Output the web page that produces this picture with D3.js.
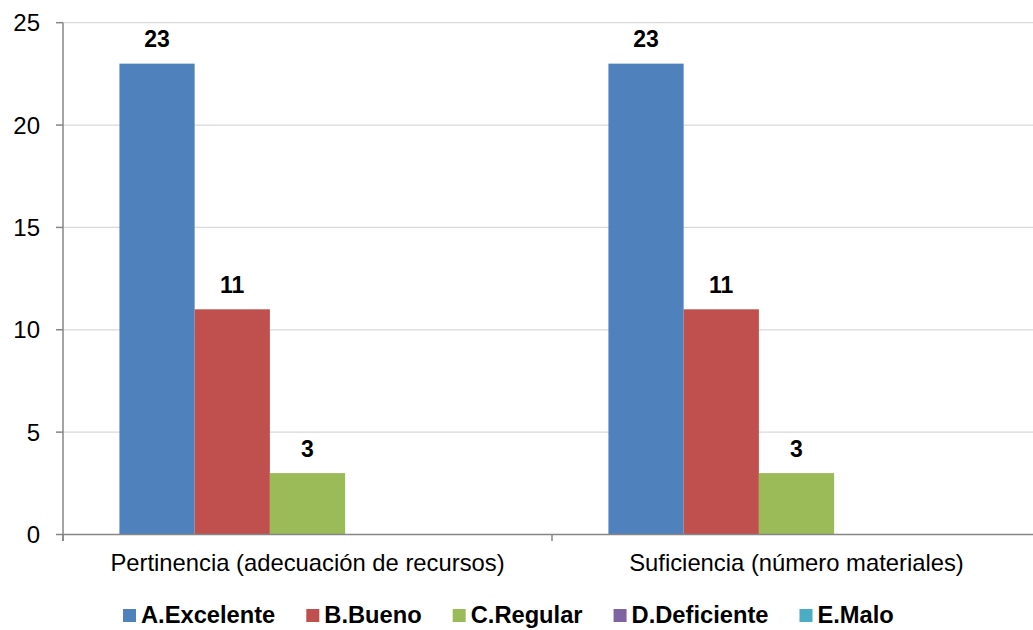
<!DOCTYPE html>
<html>
<head>
<meta charset="utf-8">
<script src="https://cdn.jsdelivr.net/npm/d3@7"></script>
<style>
  html, body { margin: 0; padding: 0; background: #fff; }
  svg { display: block; font-family: "Liberation Sans", Arial, sans-serif; }
</style>
</head>
<body>
<div id="chart"></div>
<script>
// data
const categories = ['Pertinencia (adecuación de recursos)', 'Suficiencia (número materiales)'];
const seriesNames = ['A.Excelente', 'B.Bueno', 'C.Regular', 'D.Deficiente', 'E.Malo'];
const seriesColors = ['#4f81bd', '#c0504d', '#9bbb59', '#8064a2', '#4bacc6'];
const valuesA = [23, 23];
const valuesB = [11, 11];
const valuesC = [3, 3];
const valuesD = [0, 0];
const valuesE = [0, 0];
const yTicks = [0, 5, 10, 15, 20, 25];

const seriesValues = [valuesA, valuesB, valuesC, valuesD, valuesE];

const width = 1033, height = 630;
const plot = { left: 63, right: 1041, top: 22.7, bottom: 534.5 };

const svg = d3.select('#chart').append('svg')
    .attr('width', width).attr('height', height);

const y = d3.scaleLinear().domain([0, 25]).range([plot.bottom, plot.top]);
const x0 = d3.scaleBand().domain(categories).range([plot.left, plot.right]).padding(0);
const x1 = d3.scaleBand().domain(seriesNames).range([0, x0.bandwidth()])
    .paddingInner(0).paddingOuter(0.75);

// gridlines
svg.append('g').selectAll('line').data(yTicks.filter(d => d > 0)).join('line')
    .attr('x1', plot.left).attr('x2', plot.right)
    .attr('y1', d => y(d)).attr('y2', d => y(d))
    .attr('stroke', '#d9d9d9').attr('stroke-width', 1.3);

// bars
const rows = [];
categories.forEach((c, ci) => {
    seriesNames.forEach((s, si) => {
        rows.push({ cat: c, series: s, value: seriesValues[si][ci], color: seriesColors[si] });
    });
});

svg.append('g').selectAll('rect').data(rows.filter(d => d.value > 0)).join('rect')
    .attr('x', d => x0(d.cat) + x1(d.series))
    .attr('width', x1.bandwidth())
    .attr('y', d => y(d.value))
    .attr('height', d => y(0) - y(d.value))
    .attr('fill', d => d.color);

// data labels
svg.append('g').selectAll('text').data(rows.filter(d => d.value > 0)).join('text')
    .attr('x', d => x0(d.cat) + x1(d.series) + x1.bandwidth() / 2)
    .attr('y', d => y(d.value) - 16.5)
    .attr('text-anchor', 'middle')
    .style('font-size', '23px').style('font-weight', 'bold').style('fill', '#000')
    .text(d => d.value);

// y axis
const yAxis = svg.append('g');
yAxis.append('line')
    .attr('x1', plot.left).attr('x2', plot.left)
    .attr('y1', y(25)).attr('y2', y(0) + 6.5)
    .attr('stroke', '#868686').attr('stroke-width', 1.5);
yAxis.selectAll('line.tick').data(yTicks).join('line').attr('class', 'tick')
    .attr('x1', plot.left - 7).attr('x2', plot.left)
    .attr('y1', d => y(d)).attr('y2', d => y(d))
    .attr('stroke', '#868686').attr('stroke-width', 1.5);
yAxis.selectAll('text').data(yTicks).join('text')
    .attr('x', 40).attr('y', d => y(d))
    .attr('dy', '0.36em')
    .attr('text-anchor', 'end')
    .style('font-size', '24px').style('fill', '#000')
    .text(d => d);

// x axis
const xAxis = svg.append('g');
xAxis.append('line')
    .attr('x1', plot.left).attr('x2', plot.right)
    .attr('y1', y(0)).attr('y2', y(0))
    .attr('stroke', '#868686').attr('stroke-width', 1.5);
const boundaries = categories.map(c => x0(c)).concat([plot.right]);
xAxis.selectAll('line.tick').data(boundaries).join('line').attr('class', 'tick')
    .attr('x1', d => d).attr('x2', d => d)
    .attr('y1', y(0)).attr('y2', y(0) + 6.5)
    .attr('stroke', '#868686').attr('stroke-width', 1.5);
xAxis.selectAll('text').data(categories).join('text')
    .attr('x', d => x0(d) + x0.bandwidth() / 2)
    .attr('y', 571)
    .attr('text-anchor', 'middle')
    .style('font-size', '23.8px').style('fill', '#000')
    .text(d => d);

// legend
const legend = svg.append('g');
let lx = 123;
seriesNames.forEach((s, i) => {
    const item = legend.append('g');
    item.append('rect')
        .attr('x', lx).attr('y', 609)
        .attr('width', 13).attr('height', 13)
        .attr('fill', seriesColors[i]);
    const t = item.append('text')
        .attr('x', lx + 18).attr('y', 623)
        .style('font-size', '23.7px').style('font-weight', 'bold').style('fill', '#000')
        .text(s);
    lx += 18 + t.node().getComputedTextLength() + 31;
});
</script>
</body>
</html>
